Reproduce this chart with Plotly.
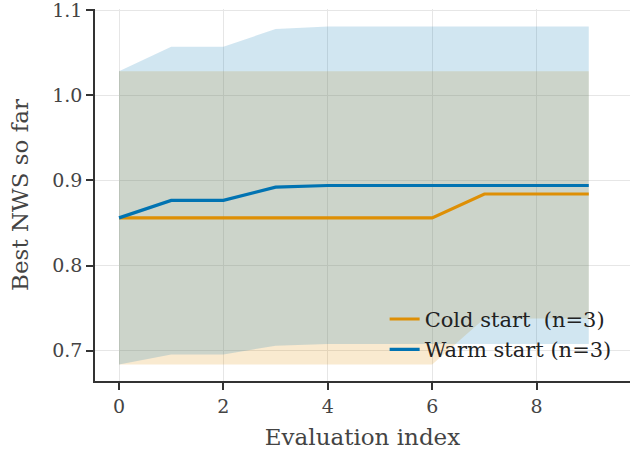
import plotly.graph_objects as go

x = list(range(10))
cold_mean = [0.856, 0.856, 0.856, 0.856, 0.856, 0.856, 0.856, 0.884, 0.884, 0.884]
cold_lo = [0.684, 0.684, 0.684, 0.684, 0.684, 0.684, 0.684, 0.738, 0.738, 0.738]
cold_hi = [1.028, 1.028, 1.028, 1.028, 1.028, 1.028, 1.028, 1.028, 1.028, 1.028]
warm_mean = [0.856, 0.8765, 0.8765, 0.892, 0.894, 0.894, 0.894, 0.894, 0.894, 0.894]
warm_lo = [0.684, 0.6957, 0.6957, 0.706, 0.708, 0.708, 0.708, 0.708, 0.708, 0.708]
warm_hi = [1.028, 1.057, 1.057, 1.0776, 1.0807, 1.0807, 1.0807, 1.0807, 1.0807, 1.0807]

ORANGE = "#DE8F05"
BLUE = "#0173B2"
FONT = "DejaVu Serif"

fig = go.Figure()

def band(lo, hi, rgba):
    fig.add_trace(go.Scatter(x=x + x[::-1], y=hi + lo[::-1], fill="toself",
                             fillcolor=rgba, line=dict(width=0), mode="lines",
                             showlegend=False, hoverinfo="skip"))

band(cold_lo, cold_hi, "rgba(222,143,5,0.19)")
band(warm_lo, warm_hi, "rgba(1,115,178,0.18)")

fig.add_trace(go.Scatter(x=x, y=cold_mean, mode="lines", name="Cold start  (n=3)",
                         line=dict(color=ORANGE, width=3.2)))
fig.add_trace(go.Scatter(x=x, y=warm_mean, mode="lines", name="Warm start (n=3)",
                         line=dict(color=BLUE, width=3.2)))

axis_common = dict(showline=True, linecolor="#333333", linewidth=1.5,
                   ticks="outside", ticklen=7, tickwidth=1.5, tickcolor="#333333",
                   showgrid=True, gridcolor="#e6e6e6", gridwidth=1, zeroline=False,
                   tickfont=dict(family=FONT, size=19, color="#444444"),
                   ticklabeloverflow="allow", automargin=False, mirror=False)

fig.update_layout(
    width=632, height=452,
    margin=dict(l=95, r=2, t=9, b=71),
    paper_bgcolor="white", plot_bgcolor="white",
    font=dict(family=FONT, color="#444444"),
    xaxis=dict(range=[-0.46, 9.79], tickvals=[0, 2, 4, 6, 8],
               title=dict(text="Evaluation index", font=dict(family=FONT, size=23, color="#444444"), standoff=13),
               **axis_common),
    yaxis=dict(range=[0.6645, 1.1012], tickvals=[0.7, 0.8, 0.9, 1.0, 1.1], tickformat=".1f",
               title=dict(text="Best NWS so far", font=dict(family=FONT, size=23, color="#444444"), standoff=17),
               **axis_common),
    legend=dict(x=0.975, y=0.03, xanchor="right", yanchor="bottom",
                bgcolor="rgba(0,0,0,0)", font=dict(family=FONT, size=21, color="#222222"),
                tracegroupgap=0),
)

fig.write_html("out.html")
